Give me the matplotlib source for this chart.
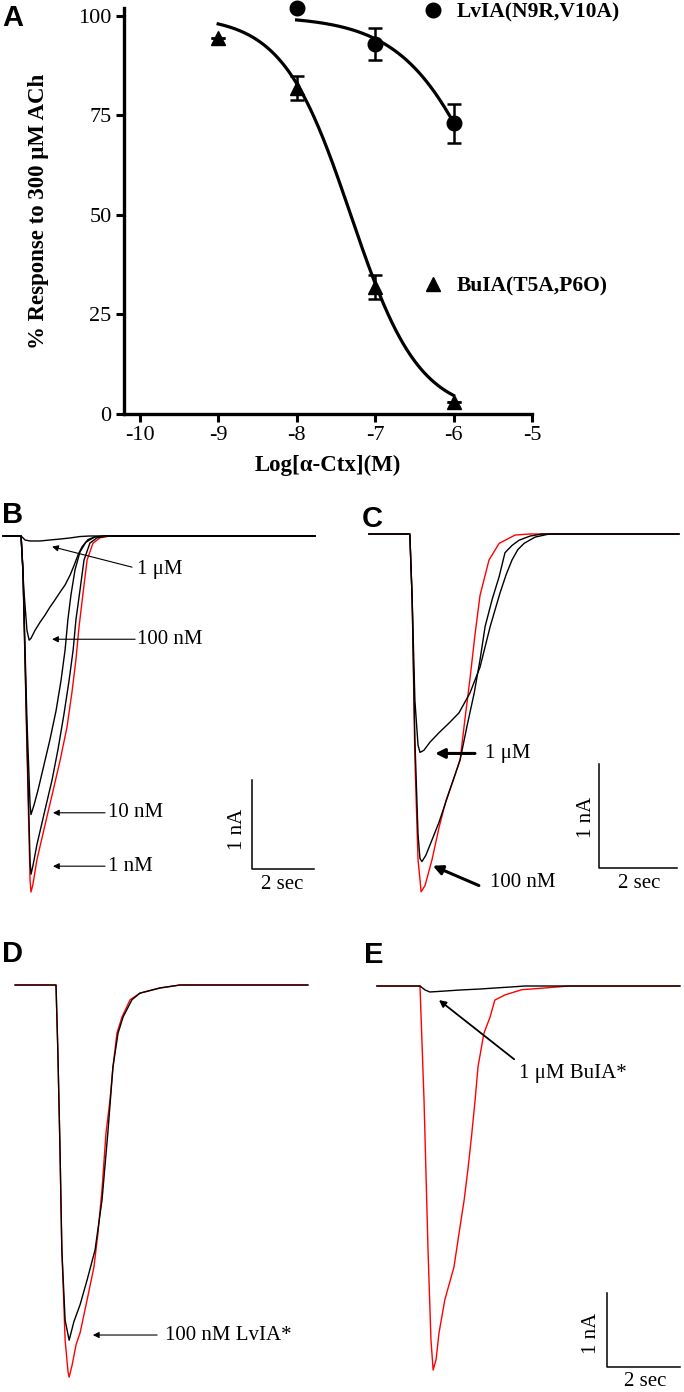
import numpy as np
import matplotlib
matplotlib.use("Agg")
import matplotlib.pyplot as plt
from matplotlib.lines import Line2D

plt.rcParams['font.family'] = ['Liberation Serif', 'DejaVu Serif']

# ---------------- panel A : concentration-response ----------------
log_conc_bu = [-9, -8, -7, -6]
resp_bu = [94.5, 82, 32, 3]
err_bu = [0, 3, 3, 0]
log_conc_lv = [-8, -7, -6]
resp_lv = [102, 93, 73]
err_lv = [0, 4, 5]
# fitted Hill parameters (logIC50, slope)
fit_bu = (-7.31, 1.0)
fit_lv = (-5.44, 0.78)
xticks_a = [-10, -9, -8, -7, -6, -5]
yticks_a = [0, 25, 50, 75, 100]

# ---------------- panel B traces (time s, current nA) ----------------
b_red_t = [-0.61, -0.03, 0.03, 0.16, 0.26, 0.29, 0.35, 0.48, 0.74, 0.97, 1.23, 1.45, 1.61, 1.74, 1.84, 1.97, 2.10, 2.29, 2.52, 2.84, 9.45]
b_red_i = [0, 0, -0.38, -2.40, -3.87, -4.00, -3.92, -3.64, -3.25, -2.91, -2.52, -2.15, -1.76, -1.39, -1.02, -0.64, -0.27, -0.08, -0.02, 0, 0]
b_1nm_t = [-0.61, -0.03, 0.03, 0.16, 0.26, 0.29, 0.35, 0.48, 0.74, 0.97, 1.16, 1.35, 1.52, 1.65, 1.74, 1.87, 2.00, 2.19, 2.42, 2.77, 9.45]
b_1nm_i = [0, 0, -0.38, -2.29, -3.66, -3.80, -3.71, -3.47, -3.08, -2.74, -2.40, -2.01, -1.62, -1.28, -0.94, -0.61, -0.27, -0.08, -0.02, 0, 0]
b_10nm_t = [-0.61, -0.03, 0.03, 0.16, 0.26, 0.29, 0.39, 0.52, 0.71, 0.90, 1.10, 1.26, 1.39, 1.48, 1.58, 1.71, 1.87, 2.06, 2.35, 2.68, 9.45]
b_10nm_i = [0, 0, -0.38, -2.07, -3.02, -3.13, -3.02, -2.85, -2.57, -2.29, -1.96, -1.62, -1.28, -0.94, -0.66, -0.38, -0.18, -0.07, -0.01, 0, 0]
b_100nm_t = [-0.61, -0.03, 0.06, 0.16, 0.23, 0.29, 0.42, 0.58, 0.74, 0.90, 1.06, 1.23, 1.39, 1.55, 1.68, 1.81, 1.94, 2.13, 2.35, 2.68, 9.45]
b_100nm_i = [0, 0, -0.61, -1.06, -1.17, -1.15, -1.06, -0.97, -0.89, -0.80, -0.72, -0.63, -0.55, -0.44, -0.33, -0.21, -0.12, -0.04, -0.01, 0, 0]
b_1um_t = [-0.61, -0.03, 0.10, 0.26, 0.58, 0.90, 1.23, 1.55, 1.87, 2.19, 9.45]
b_1um_i = [0, 0, -0.045, -0.056, -0.056, -0.045, -0.034, -0.022, -0.006, 0, 0]

# ---------------- panel C traces ----------------
c_red_t = [-1.08, -0.03, 0.03, 0.10, 0.18, 0.26, 0.36, 0.54, 0.72, 0.90, 1.08, 1.26, 1.38, 1.51, 1.64, 1.77, 2.00, 2.26, 2.67, 3.05, 6.87]
c_red_i = [0, 0, -0.63, -2.17, -3.13, -3.44, -3.38, -3.13, -2.82, -2.56, -2.37, -2.17, -1.79, -1.40, -0.97, -0.59, -0.25, -0.09, -0.01, 0, 0]
c_100nm_t = [-1.08, -0.03, 0.03, 0.10, 0.18, 0.23, 0.28, 0.38, 0.54, 0.72, 0.97, 1.26, 1.44, 1.62, 1.77, 1.90, 2.08, 2.26, 2.41, 2.59, 2.77, 3.05, 3.36, 6.87]
c_100nm_i = [0, 0, -0.63, -1.98, -2.89, -3.12, -3.15, -3.09, -2.94, -2.77, -2.49, -2.17, -1.84, -1.53, -1.21, -0.89, -0.63, -0.41, -0.18, -0.11, -0.06, -0.02, 0, 0]
c_1um_t = [-1.08, -0.03, 0.03, 0.10, 0.18, 0.23, 0.33, 0.49, 0.72, 0.97, 1.23, 1.51, 1.77, 2.03, 2.28, 2.44, 2.59, 2.74, 2.90, 3.18, 3.54, 6.87]
c_1um_i = [0, 0, -0.63, -1.60, -2.03, -2.10, -2.08, -2.00, -1.91, -1.82, -1.72, -1.53, -1.28, -0.89, -0.57, -0.39, -0.25, -0.15, -0.09, -0.03, 0, 0]

# ---------------- panel D traces ----------------
d_red_t = [-1.12, 0, 0.05, 0.11, 0.16, 0.25, 0.33, 0.36, 0.44, 0.55, 0.66, 0.85, 1.04, 1.15, 1.26, 1.37, 1.48, 1.56, 1.67, 1.81, 2.03, 2.30, 2.85, 3.40, 6.90]
d_red_i = [0, 0, -0.88, -2.23, -3.58, -4.80, -5.23, -5.30, -5.14, -4.86, -4.70, -4.26, -3.81, -3.35, -2.77, -2.00, -1.55, -1.11, -0.65, -0.43, -0.20, -0.11, -0.04, 0, 0]
d_lv_t = [-1.12, 0, 0.05, 0.11, 0.16, 0.25, 0.36, 0.49, 0.66, 0.85, 1.07, 1.26, 1.42, 1.56, 1.70, 1.84, 2.08, 2.30, 2.85, 3.40, 6.90]
d_lv_i = [0, 0, -0.88, -2.23, -3.58, -4.53, -4.80, -4.55, -4.32, -3.99, -3.58, -2.91, -2.00, -1.11, -0.65, -0.43, -0.20, -0.11, -0.04, 0, 0]

# ---------------- panel E traces ----------------
e_red_t = [-1.18, 0, 0.11, 0.22, 0.30, 0.36, 0.44, 0.52, 0.68, 0.93, 1.07, 1.21, 1.32, 1.42, 1.51, 1.59, 1.75, 1.92, 2.05, 2.33, 2.79, 3.34, 4.08, 7.12]
e_red_i = [0, 0, -1.54, -3.57, -4.78, -5.19, -5.05, -4.69, -4.24, -3.80, -3.34, -2.89, -2.45, -1.99, -1.54, -1.09, -0.64, -0.42, -0.19, -0.12, -0.05, -0.03, 0, 0]
e_bu_t = [-1.18, 0, 0.14, 0.27, 0.68, 1.10, 1.64, 2.05, 2.47, 2.88, 7.12]
e_bu_i = [0, 0, -0.054, -0.081, -0.068, -0.054, -0.041, -0.027, -0.014, 0, 0]

W, H = 684, 1392
fig = plt.figure(figsize=(W / 100, H / 100), dpi=100)


def px_axes(x0, y0, x1, y1):
    return fig.add_axes([x0 / W, 1 - y1 / H, (x1 - x0) / W, (y1 - y0) / H])


# ---------- A ----------
axA = px_axes(124, 8, 532, 414)
xs = np.linspace(-9, -6, 200)
axA.plot(xs, 100 / (1 + 10 ** ((xs - fit_bu[0]) * fit_bu[1])), color='black', lw=2.3)
xs = np.linspace(-8, -6, 200)
axA.plot(xs, 100 / (1 + 10 ** ((xs - fit_lv[0]) * fit_lv[1])), color='black', lw=2.3)
axA.errorbar(log_conc_bu, resp_bu, yerr=err_bu, fmt='^', color='black', ms=10.5,
             capsize=5, capthick=1.8, elinewidth=1.8, clip_on=False, zorder=3)
axA.errorbar(log_conc_lv, resp_lv, yerr=err_lv, fmt='o', color='black', ms=10.5,
             capsize=5, capthick=1.8, elinewidth=1.8, clip_on=False, zorder=3)
axA.set_xlim(-10.2, -5)
axA.set_ylim(0, 102)
axA.set_xticks(xticks_a)
axA.set_yticks(yticks_a)
axA.set_xticklabels([str(v) for v in xticks_a])
for s in ['top', 'right']:
    axA.spines[s].set_visible(False)
for s in ['left', 'bottom']:
    axA.spines[s].set_linewidth(2.4)
axA.tick_params(direction='out', length=6, width=2.2, labelsize=16, pad=3)
axA.set_xlabel('Log[α-Ctx](M)', fontsize=16.5, fontweight='bold', labelpad=7)
axA.set_ylabel('% Response to 300 μM ACh', fontsize=16.5, fontweight='bold')
axA.yaxis.set_label_coords(-0.185, 0.5)

h_lv = Line2D([], [], marker='o', ls='none', color='black', ms=10.5)
h_bu = Line2D([], [], marker='^', ls='none', color='black', ms=10.5)
leg1 = axA.legend([h_lv], ['LvIA(N9R,V10A)'], loc='center left', bbox_to_anchor=(0.705, 0.99),
                  frameon=False, handlelength=1.0, handletextpad=0.6, borderpad=0,
                  prop={'weight': 'bold', 'size': 15.5})
axA.add_artist(leg1)
axA.legend([h_bu], ['BuIA(T5A,P6O)'], loc='center left', bbox_to_anchor=(0.705, 0.313),
           frameon=False, handlelength=1.0, handletextpad=0.6, borderpad=0,
           prop={'weight': 'bold', 'size': 15.5})


# ---------- trace panels ----------
def trace_axes(box, origin, sx, sy):
    x0, y0, x1, y1 = box
    ax = px_axes(x0, y0, x1, y1)
    ax.set_xlim((x0 - origin[0]) / sx, (x1 - origin[0]) / sx)
    ax.set_ylim(-(y1 - origin[1]) / sy, -(y0 - origin[1]) / sy)
    ax.axis('off')
    return ax


def scale_bar(ax, t0, i0, lab_nA, lab_sec):
    ax.plot([t0, t0, t0 + 2], [i0 + 1, i0, i0], color='black', lw=1.1)
    ax.text(lab_nA[0], lab_nA[1], '1 nA', rotation=90, ha='center', va='center', fontsize=15)
    ax.text(lab_sec[0], lab_sec[1], '2 sec', ha='center', va='center', fontsize=15)


def label(ax, tip, tail, txt, lw=0.8, ms=9, ha_x=None, ty=None):
    ax.annotate('', xy=tip, xytext=tail,
                arrowprops=dict(arrowstyle='-|>', color='black', lw=lw, mutation_scale=ms,
                                shrinkA=0, shrinkB=0))
    ax.text(ha_x, tail[1] if ty is None else ty, txt, ha='left', va='center', fontsize=15)


TL = 1.0
# B
axB = trace_axes((0, 490, 342, 900), (22, 536), 31, 89)
axB.plot(b_red_t, b_red_i, color='red', lw=TL)
for t, i in [(b_1nm_t, b_1nm_i), (b_10nm_t, b_10nm_i), (b_100nm_t, b_100nm_i), (b_1um_t, b_1um_i)]:
    axB.plot(t, i, color='black', lw=TL)
label(axB, (0.97, -0.12), (3.55, -0.35), '1 μM', ha_x=3.71, ty=-0.38)
label(axB, (0.97, -1.16), (3.65, -1.16), '100 nM', ha_x=3.71)
label(axB, (1.0, -3.11), (2.68, -3.11), '10 nM', ha_x=2.77)
label(axB, (1.0, -3.71), (2.68, -3.71), '1 nM', ha_x=2.77)
scale_bar(axB, 7.42, -3.74, (6.94, -3.30), (8.39, -3.92))

# C
axC = trace_axes((342, 490, 684, 900), (411, 534), 39, 104)
axC.plot(c_red_t, c_red_i, color='red', lw=TL)
axC.plot(c_100nm_t, c_100nm_i, color='black', lw=TL)
axC.plot(c_1um_t, c_1um_i, color='black', lw=TL)
label(axC, (0.62, -2.11), (1.64, -2.11), '1 μM', lw=2.2, ms=14, ha_x=1.90)
label(axC, (0.56, -3.19), (1.74, -3.38), '100 nM', lw=2.2, ms=14, ha_x=2.03, ty=-3.35)
scale_bar(axC, 4.82, -3.21, (4.51, -2.72), (5.85, -3.36))

# D
axD = trace_axes((0, 930, 342, 1392), (56, 985), 36.5, 74)
axD.plot(d_red_t, d_red_i, color='red', lw=TL)
axD.plot(d_lv_t, d_lv_i, color='black', lw=TL)
label(axD, (1.01, -4.73), (2.77, -4.73), '100 nM LvIA*', ha_x=2.99)

# E
axE = trace_axes((342, 930, 684, 1392), (420, 986), 36.5, 74)
axE.plot(e_red_t, e_red_i, color='red', lw=TL)
axE.plot(e_bu_t, e_bu_i, color='black', lw=TL)
label(axE, (0.52, -0.19), (2.58, -0.99), '1 μM BuIA*', lw=1.3, ms=10, ha_x=2.71, ty=-1.18)
scale_bar(axE, 5.12, -5.15, (4.71, -4.69), (6.16, -5.35))

# panel letters
for lt, x, y in [('A', 2, 4), ('B', 2, 501), ('C', 362, 505), ('D', 2, 940), ('E', 364, 941)]:
    fig.text(x / W, 1 - y / H, lt, ha='left', va='top', fontsize=21, fontweight='bold',
             family='Liberation Sans')

fig.savefig('out.png', dpi=100)
